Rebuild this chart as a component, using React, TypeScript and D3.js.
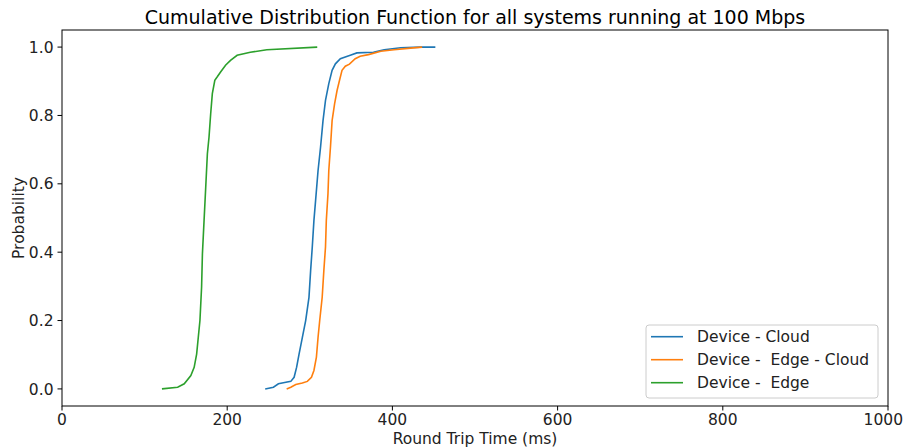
import React from "react";
import * as d3 from "d3";

// Round trip time (ms) vs cumulative probability
const cloudMs = [246, 256, 262, 268, 277, 281, 284, 287, 291, 295, 299, 301, 303, 305, 307, 310, 313, 316, 319, 323, 327, 331, 337, 349, 357, 377, 390, 410, 434, 452];
const cloudP = [0, 0.005, 0.015, 0.018, 0.022, 0.034, 0.063, 0.102, 0.151, 0.2, 0.268, 0.346, 0.415, 0.493, 0.551, 0.639, 0.707, 0.785, 0.844, 0.893, 0.932, 0.951, 0.966, 0.976, 0.983, 0.985, 0.992, 0.998, 1.0, 1.0];

const edgeCloudMs = [272, 277, 283, 291, 297, 302, 305, 308, 310, 312, 315, 317, 319, 320, 322, 323, 325, 327, 330, 333, 336, 339, 343, 348, 355, 361, 371, 386, 402, 422, 436];
const edgeCloudP = [0, 0.005, 0.013, 0.017, 0.022, 0.034, 0.054, 0.093, 0.151, 0.2, 0.268, 0.346, 0.415, 0.493, 0.571, 0.639, 0.707, 0.785, 0.834, 0.873, 0.903, 0.932, 0.944, 0.95, 0.966, 0.973, 0.978, 0.988, 0.992, 0.997, 1.0];

const edgeMs = [121, 140, 148, 156, 160, 163, 165, 167, 169, 170, 172, 174, 176, 178, 180, 182, 185, 188, 192, 198, 204, 212, 228, 248, 309];
const edgeP = [0, 0.005, 0.015, 0.039, 0.063, 0.102, 0.151, 0.2, 0.298, 0.395, 0.493, 0.59, 0.688, 0.737, 0.805, 0.864, 0.903, 0.913, 0.927, 0.947, 0.961, 0.976, 0.985, 0.992, 1.0];

const seriesNames = ["Device - Cloud", "Device -  Edge - Cloud", "Device -  Edge"];
const seriesColors = ["#1f77b4", "#ff7f0e", "#2ca02c"];
const xTicks = [0, 200, 400, 600, 800, 1000];
const yTicks = [0, 0.2, 0.4, 0.6, 0.8, 1.0];

const W = 906;
const H = 448;
const margin = { left: 62, right: 18, top: 30, bottom: 42 };

export default function App() {
  const x = d3.scaleLinear().domain([0, 1000]).range([margin.left, W - margin.right]);
  const y = d3.scaleLinear().domain([-0.05, 1.05]).range([H - margin.bottom, margin.top]);

  const series = [
    cloudMs.map((v, i) => [v, cloudP[i]] as [number, number]),
    edgeCloudMs.map((v, i) => [v, edgeCloudP[i]] as [number, number]),
    edgeMs.map((v, i) => [v, edgeP[i]] as [number, number]),
  ];

  const line = d3
    .line<[number, number]>()
    .x((d) => x(d[0]))
    .y((d) => y(d[1]));

  const font = "DejaVu Sans, sans-serif";
  const fs = 15.5;
  const x0 = margin.left;
  const x1 = W - margin.right;
  const y0 = margin.top;
  const y1 = H - margin.bottom;

  const lgX = 646;
  const lgY = 325;

  return (
    <svg
      width={W}
      height={H}
      style={{ position: "absolute", left: 0, top: 0, background: "#fff" }}
      fontFamily={font}
    >
      <text x={(x0 + x1) / 2} y={24} textAnchor="middle" fontSize={19} fill="#000">
        Cumulative Distribution Function for all systems running at 100 Mbps
      </text>

      {series.map((s, i) => (
        <path key={i} d={line(s) || ""} fill="none" stroke={seriesColors[i]} strokeWidth={1.6} />
      ))}

      <rect x={x0} y={y0} width={x1 - x0} height={y1 - y0} fill="none" stroke="#000" strokeWidth={1} />

      {xTicks.map((t) => {
        // keep the last label inside the picture, as in the reference
        const last = x(t) + 20 > W - 2;
        return (
          <g key={t}>
            <line x1={x(t)} x2={x(t)} y1={y1} y2={y1 + 4.5} stroke="#000" />
            <text
              x={last ? W - 3 : x(t)}
              y={y1 + 19}
              textAnchor={last ? "end" : "middle"}
              fontSize={fs}
              fill="#222"
            >
              {t}
            </text>
          </g>
        );
      })}
      {yTicks.map((t) => (
        <g key={t}>
          <line x1={x0 - 4.5} x2={x0} y1={y(t)} y2={y(t)} stroke="#000" />
          <text x={x0 - 8.5} y={y(t) + 5.6} textAnchor="end" fontSize={fs} fill="#222">
            {t.toFixed(1)}
          </text>
        </g>
      ))}

      <text x={(x0 + x1) / 2} y={444} textAnchor="middle" fontSize={fs} fill="#222">
        Round Trip Time (ms)
      </text>
      <text
        transform={`translate(24, ${(y0 + y1) / 2}) rotate(-90)`}
        textAnchor="middle"
        fontSize={fs}
        fill="#222"
      >
        Probability
      </text>

      <rect x={lgX} y={lgY} width={232} height={73} rx={3} fill="#fff" fillOpacity={0.8} stroke="#ccc" />
      {seriesNames.map((n, i) => (
        <g key={n}>
          <line
            x1={lgX + 5}
            x2={lgX + 37}
            y1={lgY + 11.7 + i * 23}
            y2={lgY + 11.7 + i * 23}
            stroke={seriesColors[i]}
            strokeWidth={1.6}
          />
          <text x={lgX + 51} y={lgY + 17.2 + i * 23} fontSize={fs} fill="#222" style={{ whiteSpace: "pre" }}>
            {n}
          </text>
        </g>
      ))}
    </svg>
  );
}
